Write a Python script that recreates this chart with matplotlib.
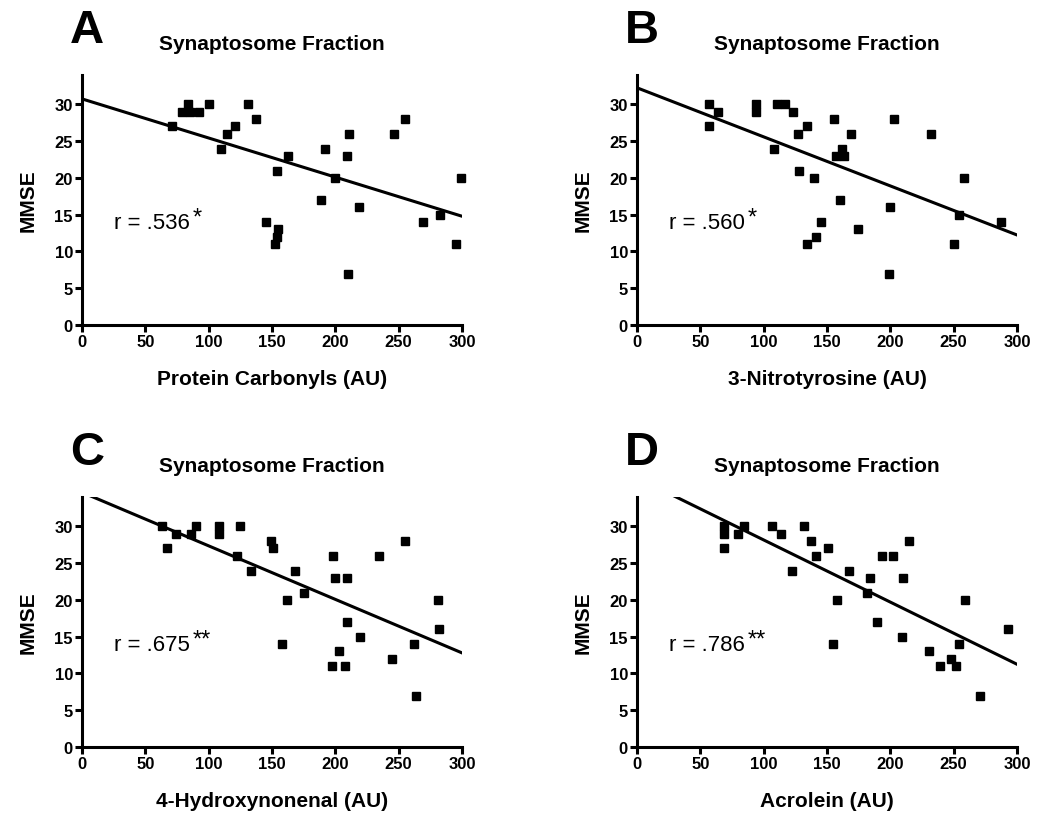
import numpy as np
import matplotlib
matplotlib.use("Agg")
import matplotlib.pyplot as plt

plt.rcParams['font.family'] = ['Liberation Sans', 'DejaVu Sans']

# valeurs
pc_x = [71, 79, 84, 85, 92, 100, 110, 114.5, 120.5, 131, 137, 145.5, 152, 154, 155, 154,
        163, 189, 191.5, 200, 209, 211, 210, 219, 246, 255, 269, 282.5, 295, 299]
pc_y = [27, 29, 30, 29, 29, 30, 24, 26, 27, 30, 28, 14, 11, 12, 13, 21,
        23, 17, 24, 20, 23, 26, 7, 16, 26, 28, 14, 15, 11, 20]

nt_x = [56.5, 64, 56.5, 94, 94, 110.5, 116.5, 123, 108.5, 127, 134.5, 127.5, 140, 145, 134, 141,
        155.5, 169, 161.5, 157, 163.5, 160.5, 174.5, 203, 232, 199.5, 199, 258, 254.5, 250, 287]
nt_y = [30, 29, 27, 30, 29, 30, 30, 29, 24, 26, 27, 21, 20, 14, 11, 12,
        28, 26, 24, 23, 23, 17, 13, 28, 26, 16, 7, 20, 15, 11, 14]

hne_x = [63.5, 67, 74.5, 86, 90, 108.5, 108.5, 125, 122.5, 133.5, 149.5, 150.5, 161.5, 157.5, 168.5, 175,
         198.5, 200, 209, 234.5, 255, 209, 219.5, 203, 197, 207.5, 245, 262, 264, 281, 282]
hne_y = [30, 27, 29, 29, 30, 30, 29, 30, 26, 24, 28, 27, 20, 14, 24, 21,
         26, 23, 23, 26, 28, 17, 15, 13, 11, 11, 12, 14, 7, 20, 16]

acr_x = [69, 69, 69, 79.5, 84.5, 106.5, 114, 131.5, 137, 141, 122.5, 150.5, 167, 158, 154.5, 184,
         181.5, 189.5, 193.5, 202, 210, 214.5, 209, 230.5, 239, 248, 251.5, 254, 259, 270.5, 292.5]
acr_y = [30, 29, 27, 29, 30, 30, 29, 30, 28, 26, 24, 27, 24, 20, 14, 23,
         21, 17, 26, 26, 23, 28, 15, 13, 11, 12, 11, 14, 20, 7, 16]

lettres = ["A", "B", "C", "D"]
xlabels = ["Protein Carbonyls (AU)", "3-Nitrotyrosine (AU)",
           "4-Hydroxynonenal (AU)", "Acrolein (AU)"]
r_txt = [".536", ".560", ".675", ".786"]
etoiles = ["*", "*", "**", "**"]
donnees = [(pc_x, pc_y), (nt_x, nt_y), (hne_x, hne_y), (acr_x, acr_y)]

fig = plt.figure(figsize=(10.5, 8.28), dpi=100)
W, H = 1050.0, 828.0
# position des axes en pixels (gauche, haut) de chaque panneau
pos_px = [(82, 76), (637, 76), (82, 498), (637, 498)]
lw = 2.2

for i in range(4):
    gx, hy = pos_px[i]
    ax = fig.add_axes([gx / W, 1 - (hy + 250) / H, 380 / W, 250 / H])
    x, y = donnees[i]
    ax.plot(x, y, "s", color="black", markersize=6.2, clip_on=False)

    # droite de regression
    pente, orig = np.polyfit(x, y, 1)
    xx = np.array([0, 300])
    ax.plot(xx, orig + pente * xx, color="black", lw=2.2)

    ax.set_xlim(0, 300)
    ax.set_ylim(0, 34)
    ax.set_xticks(range(0, 301, 50))
    ax.set_yticks(range(0, 31, 5))
    for s in ["top", "right"]:
        ax.spines[s].set_visible(False)
    for s in ["left", "bottom"]:
        ax.spines[s].set_linewidth(lw)
    ax.tick_params(direction="out", length=5, width=lw, pad=1.5, labelsize=12)
    for t in ax.get_xticklabels() + ax.get_yticklabels():
        t.set_fontweight("bold")

    ax.set_xlabel(xlabels[i], fontsize=15, fontweight="bold")
    ax.set_ylabel("MMSE", fontsize=15, fontweight="bold")
    ax.xaxis.set_label_coords(0.5, -0.215)
    ax.xaxis.label.set_va("center")
    ax.yaxis.set_label_coords(-0.142, 0.5)
    ax.yaxis.label.set_va("center")

    ax.set_title("Synaptosome Fraction", fontsize=15, fontweight="bold", pad=19)

    t = ax.text(25, 13.9, "r = " + r_txt[i], fontsize=16, ha="left", va="center")
    ax.annotate(etoiles[i], xy=(1, 0.5), xycoords=t, xytext=(2, 4),
                textcoords="offset points", fontsize=17, ha="left", va="center")

    fig.text((gx - 12) / W, 1 - (hy - 45) / H, lettres[i], fontsize=34,
             fontweight="bold", ha="left", va="center")

fig.savefig("out.png", dpi=100)
